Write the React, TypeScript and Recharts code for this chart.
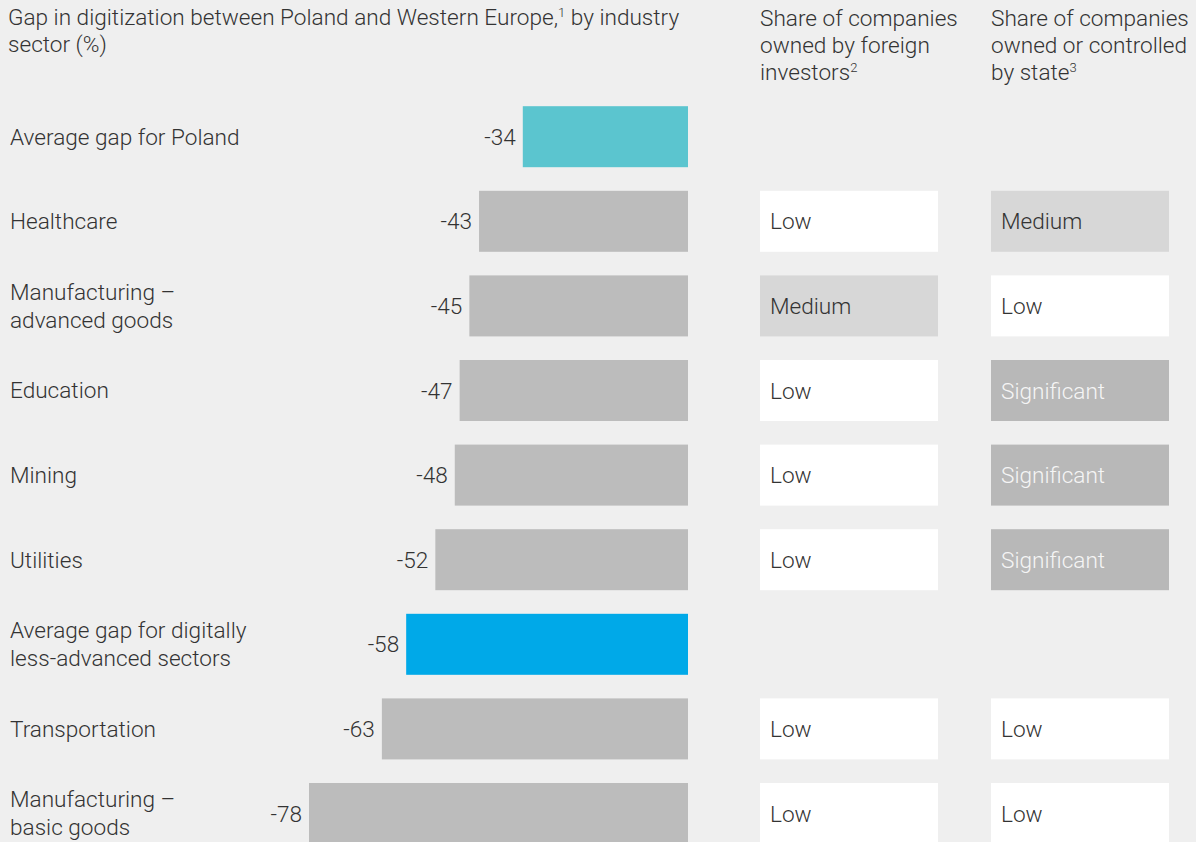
import React from 'react';
import { BarChart, Bar, XAxis, YAxis, LabelList } from 'recharts';

const sectors = [
  'Average gap for Poland',
  'Healthcare',
  'Manufacturing –\nadvanced goods',
  'Education',
  'Mining',
  'Utilities',
  'Average gap for digitally\nless-advanced sectors',
  'Transportation',
  'Manufacturing –\nbasic goods',
];
const gaps = [-34, -43, -45, -47, -48, -52, -58, -63, -78];
const foreignShare = ['', 'Low', 'Medium', 'Low', 'Low', 'Low', '', 'Low', 'Low'];
const stateShare = ['', 'Medium', 'Low', 'Significant', 'Significant', 'Significant', '', 'Low', 'Low'];

const FONT = "Roboto, 'Helvetica Neue', Arial, sans-serif";
const FS = 22.6;
const TEXT = '#333333';
const BG = '#efefef';
const BAR_GRAY = '#bcbcbc';
const POLAND_AVG = '#5bc5cf';
const LESS_ADV_AVG = '#00a9e8';

const levelFill: Record<string, string> = { Low: '#ffffff', Medium: '#d7d7d7', Significant: '#b8b8b8' };
const levelText: Record<string, string> = { Low: TEXT, Medium: TEXT, Significant: '#f5f5f5' };

const COL_FOREIGN_X = 760;
const COL_STATE_X = 991;
const COL_W = 178;

const data = sectors.map((name, i) => ({
  name,
  gap: gaps[i],
  foreign: foreignShare[i],
  state: stateShare[i],
}));

const barColor = (i: number) => (i === 0 ? POLAND_AVG : i === 6 ? LESS_ADV_AVG : BAR_GRAY);

const SectorTick = (props: any) => {
  const { y, payload } = props;
  const lines = String(payload.value).split('\n');
  const lh = 28;
  const first = y - ((lines.length - 1) * lh) / 2 + 8;
  return (
    <text x={10} y={first} fill={TEXT} fontSize={FS} fontFamily={FONT} fontWeight={300} textAnchor="start">
      {lines.map((l, i) => (
        <tspan key={i} x={10} y={first + i * lh}>
          {l}
        </tspan>
      ))}
    </text>
  );
};

const LevelBox = ({ x, y, height, level }: { x: number; y: number; height: number; level: string }) => (
  <g>
    <rect x={x} y={y} width={COL_W} height={height} fill={levelFill[level]} />
    <text x={x + 10} y={y + height / 2 + 8} fill={levelText[level]} fontSize={FS} fontFamily={FONT} fontWeight={300}>
      {level}
    </text>
  </g>
);

const RowShape = (props: any) => {
  const { x, y, width, height, payload, index } = props;
  const left = Math.min(x, x + width);
  const w = Math.abs(width);
  return (
    <g>
      <rect x={left} y={y} width={w} height={height} fill={barColor(index)} />
      {payload.foreign ? <LevelBox x={COL_FOREIGN_X} y={y} height={height} level={payload.foreign} /> : null}
      {payload.state ? <LevelBox x={COL_STATE_X} y={y} height={height} level={payload.state} /> : null}
    </g>
  );
};

const GapLabel = (props: any) => {
  const vb = props.viewBox || {};
  const x = props.x ?? vb.x;
  const y = props.y ?? vb.y;
  const width = props.width ?? vb.width;
  const height = props.height ?? vb.height;
  const left = Math.min(x, x + width);
  return (
    <text x={left - 7} y={y + height / 2 + 8} textAnchor="end" fill={TEXT} fontSize={FS} fontFamily={FONT} fontWeight={300}>
      {props.value}
    </text>
  );
};

const sup: React.CSSProperties = { fontSize: 13, lineHeight: 0, verticalAlign: '0.6em' };

export default function App() {
  return (
    <div style={{ position: 'fixed', left: 0, top: 0, width: 1196, height: 842, overflow: 'hidden', background: BG, fontFamily: FONT, fontWeight: 300, color: TEXT }}>
      <div style={{ position: 'absolute', left: 8, top: 5, width: 720, fontSize: FS, lineHeight: '26.5px', whiteSpace: 'nowrap' }}>
        Gap in digitization between Poland and Western Europe,<sup style={sup}>1</sup> by industry
        <br />
        sector (%)
      </div>
      <div style={{ position: 'absolute', left: 760, top: 5, width: 220, fontSize: FS, lineHeight: '27px', whiteSpace: 'nowrap' }}>
        Share of companies
        <br />
        owned by foreign
        <br />
        investors<sup style={sup}>2</sup>
      </div>
      <div style={{ position: 'absolute', left: 991, top: 5, width: 220, fontSize: FS, lineHeight: '27px', whiteSpace: 'nowrap' }}>
        Share of companies
        <br />
        owned or controlled
        <br />
        by state<sup style={sup}>3</sup>
      </div>
      <div style={{ position: 'absolute', left: 0, top: 0 }}>
        <BarChart
          width={1196}
          height={870}
          data={data}
          layout="vertical"
          margin={{ top: 94.2, right: 508, bottom: 14.4, left: 10 }}
        >
          <XAxis type="number" domain={[-78, 0]} hide />
          <YAxis type="category" dataKey="name" width={299} axisLine={false} tickLine={false} tick={SectorTick} interval={0} />
          <Bar dataKey="gap" barSize={61} isAnimationActive={false} shape={RowShape}>
            <LabelList dataKey="gap" content={GapLabel} />
          </Bar>
        </BarChart>
      </div>
    </div>
  );
}
